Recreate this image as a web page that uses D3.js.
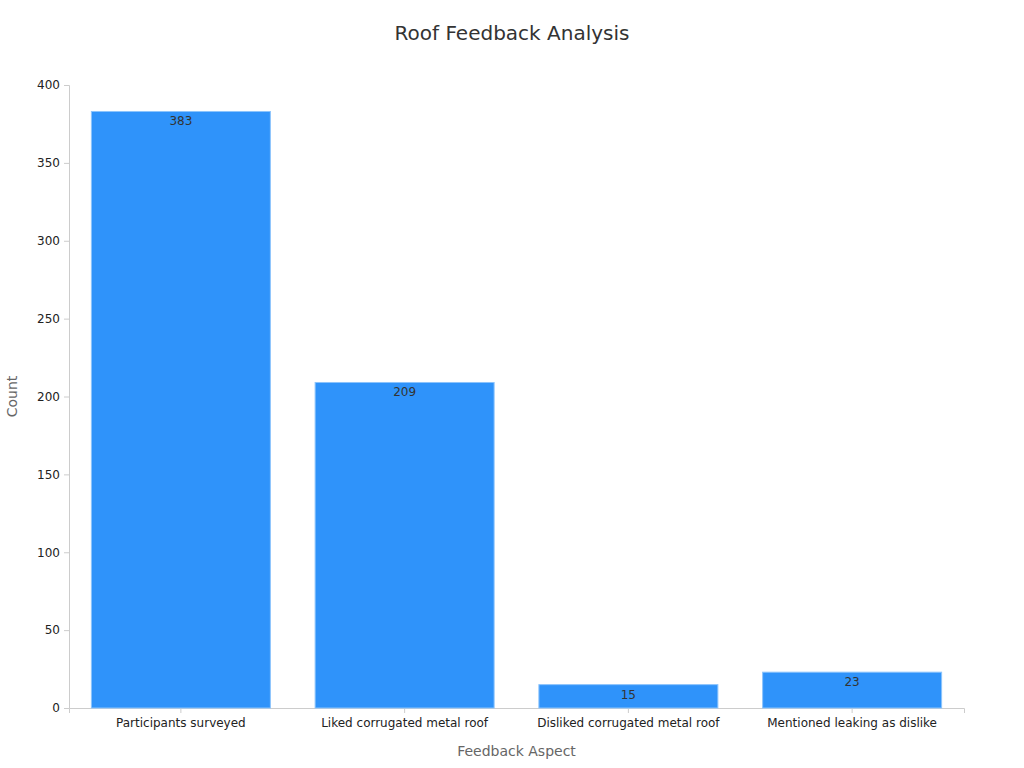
<!DOCTYPE html>
<html><head><meta charset="utf-8">
<script src="https://cdn.jsdelivr.net/npm/d3@7"></script>
<style>body{margin:0;background:#fff;font-family:"DejaVu Sans",sans-serif}</style>
</head><body><svg id="chart" width="1024" height="768"></svg>
<script>
const categories = ["Participants surveyed", "Liked corrugated metal roof", "Disliked corrugated metal roof", "Mentioned leaking as dislike"];
const counts = [383, 209, 15, 23];
const yTicks = [0, 50, 100, 150, 200, 250, 300, 350, 400];

const svg = d3.select("#chart");
const margin = {left: 69, right: 60, top: 85, bottom: 60};
const width = 1024, height = 768;

const x = d3.scaleBand().domain(categories).range([margin.left, width - margin.right]).paddingInner(0.2).paddingOuter(0.1);
const y = d3.scaleLinear().domain([0, 400]).range([height - margin.bottom, margin.top]);

svg.append("text").attr("x", 512).attr("y", 40).attr("text-anchor", "middle")
  .attr("font-size", 20).attr("fill", "#333").text("Roof Feedback Analysis");

const yAxis = svg.append("g").attr("transform", `translate(${margin.left},0)`)
  .call(d3.axisLeft(y).tickValues(yTicks).tickSize(5).tickPadding(4));
const xAxis = svg.append("g").attr("transform", `translate(0,${height - margin.bottom})`)
  .call(d3.axisBottom(x).tickSize(5).tickPadding(5));
[yAxis, xAxis].forEach(a => {
  a.selectAll("path,line").attr("stroke", "#ccc");
  a.selectAll("text").attr("fill", "#222").attr("font-size", 12).attr("font-family", "DejaVu Sans");
});

svg.selectAll("rect.bar").data(categories).enter().append("rect")
  .attr("class", "bar")
  .attr("x", d => x(d)).attr("width", x.bandwidth())
  .attr("y", (d, i) => y(counts[i])).attr("height", (d, i) => y(0) - y(counts[i]))
  .attr("fill", "#2f93fa").attr("stroke", "#8cc4fc").attr("stroke-width", 1);

svg.selectAll("text.val").data(categories).enter().append("text")
  .attr("class", "val")
  .attr("x", d => x(d) + x.bandwidth() / 2).attr("y", (d, i) => y(counts[i]) + 14)
  .attr("text-anchor", "middle").attr("font-size", 12).attr("fill", "#333")
  .text((d, i) => counts[i]);

svg.append("text").attr("x", (margin.left + width - margin.right) / 2).attr("y", 756)
  .attr("text-anchor", "middle").attr("font-size", 14).attr("fill", "#666").text("Feedback Aspect");
svg.append("text").attr("transform", `translate(17,${(margin.top + height - margin.bottom) / 2}) rotate(-90)`)
  .attr("text-anchor", "middle").attr("font-size", 14).attr("fill", "#666").text("Count");
</script></body></html>
